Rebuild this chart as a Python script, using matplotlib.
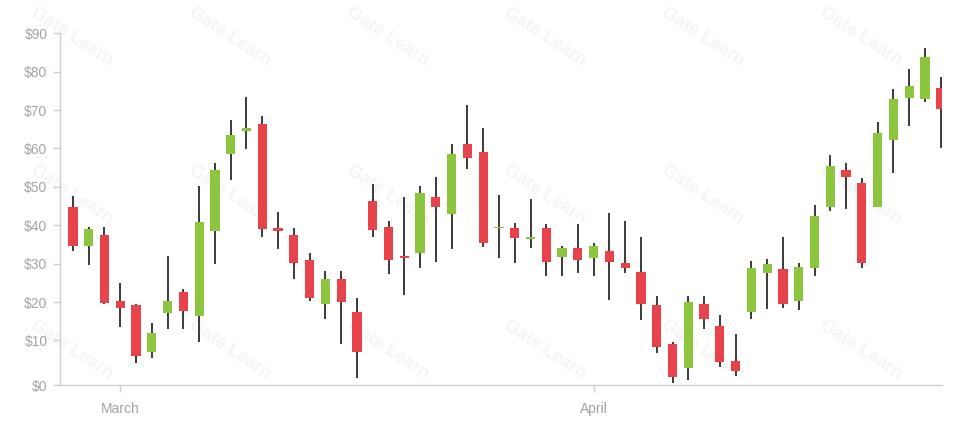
import numpy as np
import matplotlib.pyplot as plt

plt.rcParams['font.family'] = ['Liberation Sans', 'DejaVu Sans']

# --- daily OHLC values ---
opens = [44.7, 34.7, 37.5, 20.2, 19.3, 7.1, 17.1, 22.6, 16.4, 38.5,
         58.5, 64.6, 66.3, 39.3, 37.5, 31.0, 19.4, 25.9, 17.5, 46.2,
         39.6, 31.8, 32.9, 47.4, 43.0, 61.1, 59.2, 39.2, 39.2, 36.4,
         39.4, 31.8, 34.1, 31.4, 33.4, 30.1, 27.8, 19.2, 9.0, 2.9,
         19.4, 13.8, 4.7, 17.5, 27.7, 28.7, 20.4, 28.8, 44.7, 54.4,
         50.9, 44.7, 62.2, 73.1, 73.0, 75.8]
closes = [34.7, 38.9, 19.7, 18.4, 6.0, 12.0, 20.3, 17.7, 40.8, 54.4,
          63.6, 65.4, 38.9, 38.5, 30.1, 21.0, 25.9, 20.1, 7.1, 38.8,
          31.0, 31.5, 48.4, 44.8, 58.5, 57.4, 35.3, 39.5, 36.6, 36.8,
          30.5, 34.1, 31.0, 34.6, 30.5, 28.8, 19.5, 8.4, 0.6, 20.1,
          15.5, 4.3, 2.1, 28.8, 29.9, 19.5, 29.2, 42.4, 55.5, 52.5,
          30.1, 64.1, 72.9, 76.4, 83.9, 70.2]
highs = [47.6, 39.6, 39.6, 24.9, 19.5, 14.5, 32.0, 23.5, 50.1, 56.3,
         67.4, 73.3, 68.5, 43.5, 39.3, 32.7, 28.2, 28.2, 21.0, 50.8,
         41.0, 47.3, 50.2, 52.7, 61.1, 71.3, 65.3, 47.9, 40.7, 46.9,
         40.3, 34.7, 40.3, 35.5, 43.3, 41.2, 36.9, 21.6, 9.7, 21.6,
         21.6, 16.6, 11.6, 30.8, 31.1, 36.9, 30.3, 45.3, 58.2, 56.1,
         52.2, 67.0, 75.4, 80.6, 86.1, 78.5]
lows = [33.4, 29.7, 19.5, 13.6, 4.1, 5.4, 12.9, 12.9, 9.7, 29.9,
        51.8, 59.8, 36.9, 33.7, 25.9, 20.3, 15.5, 9.0, 0.2, 36.9,
        27.2, 21.9, 28.8, 30.5, 33.7, 54.6, 34.3, 31.6, 30.1, 34.0,
        26.8, 26.8, 27.7, 26.8, 20.6, 27.5, 15.3, 6.7, -1.0, -0.3,
        12.9, 3.2, 0.7, 15.5, 18.1, 18.4, 17.9, 26.8, 43.8, 44.2,
        29.0, 44.7, 53.5, 65.9, 72.2, 60.2]

month_ticks = [3, 33]
month_labels = ['March', 'April']
price_ticks = [10, 20, 30, 40, 50, 60, 70, 80, 90]

up_color = '#8cc63f'
down_color = '#e8434b'
grey = '#a3a3a3'

o = np.array(opens)
c = np.array(closes)
h = np.array(highs)
l = np.array(lows)
x = np.arange(len(o))

fig = plt.figure(figsize=(9.66, 4.24), dpi=100)
ax = fig.add_axes([60 / 966, 39 / 424, 882 / 966, 351.7 / 424])
ax.set_facecolor('none')

# faint watermark grid behind the chart
for wx in [72, 230, 388, 545, 703, 861]:
    for wy in [37, 195, 350]:
        fig.text(wx / 966, 1 - wy / 424, 'Gate Learn', rotation=-33,
                 ha='center', va='center', fontsize=13, fontweight='bold',
                 color='#f5f5f5', zorder=-1)

colors = np.where(c >= o, up_color, down_color)
bottom = np.minimum(o, c)
height = np.maximum(np.abs(c - o), 0.45)

ax.vlines(x, l, h, color='#2b2b2b', linewidth=1.3, zorder=2)
ax.bar(x, height, bottom=bottom, width=0.58, color=colors, zorder=3)

ymin = -1.6
ax.set_xlim(-0.82, 55.08)
ax.set_ylim(ymin, 90)

ax.set_xticks(month_ticks)
ax.set_xticklabels(month_labels)
ax.set_yticks([ymin] + price_ticks)
ax.set_yticklabels(['$0'] + [f'${v}' for v in price_ticks])

for side in ['top', 'right']:
    ax.spines[side].set_visible(False)
for side in ['left', 'bottom']:
    ax.spines[side].set_color('#cfcfcf')
    ax.spines[side].set_linewidth(1.0)

ax.tick_params(axis='both', colors='#cfcfcf', labelcolor=grey,
               labelsize=10, length=5, width=1)
ax.tick_params(axis='y', pad=4)
ax.tick_params(axis='x', pad=7)

fig.savefig('out.png', dpi=100)
